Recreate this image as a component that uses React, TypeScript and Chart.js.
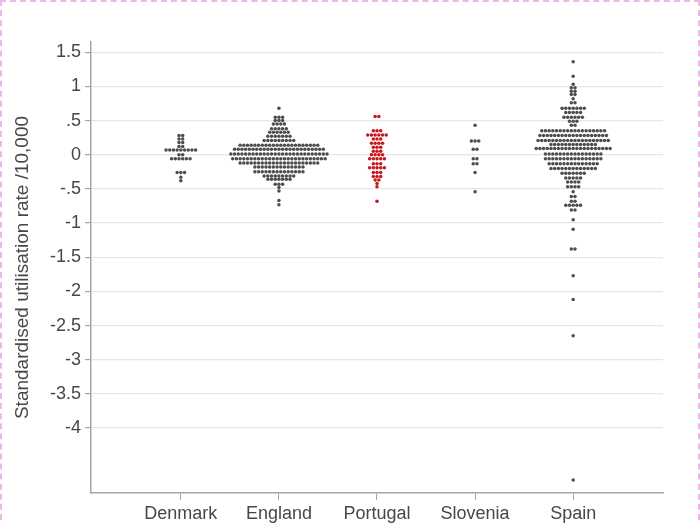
import React, { useEffect, useRef } from 'react';
import { Chart, registerables } from 'chart.js';

Chart.register(...registerables);

const countries = ['Denmark', 'England', 'Portugal', 'Slovenia', 'Spain'];
const yTicks = [1.5, 1, 0.5, 0, -0.5, -1, -1.5, -2, -2.5, -3, -3.5, -4];
const yTickLabels = ['1.5', '1', '.5', '0', '-.5', '-1', '-1.5', '-2', '-2.5', '-3', '-3.5', '-4'];

// Each row: [standardised rate, number of areas stacked side by side at that rate]
const denmarkRows: [number, number][] = [
  [0.28, 2], [0.23, 2], [0.18, 2], [0.12, 2], [0.07, 9], [0.0, 2], [-0.06, 6],
  [-0.26, 3], [-0.33, 1], [-0.38, 1],
];
const englandRows: [number, number][] = [
  [0.68, 1], [0.55, 3], [0.5, 3], [0.45, 4], [0.38, 5], [0.33, 6], [0.27, 7], [0.21, 9],
  [0.14, 22], [0.08, 25], [0.01, 27], [-0.06, 26], [-0.12, 22], [-0.18, 14], [-0.25, 14],
  [-0.31, 9], [-0.36, 7], [-0.43, 3], [-0.48, 1], [-0.53, 1], [-0.67, 1], [-0.73, 1],
];
const portugalRows: [number, number][] = [
  [0.56, 2], [0.35, 3], [0.29, 6], [0.23, 3], [0.17, 4], [0.11, 3], [0.05, 3], [0.0, 4],
  [-0.06, 5], [-0.13, 3], [-0.19, 5], [-0.26, 3], [-0.32, 3], [-0.37, 2], [-0.42, 1],
  [-0.47, 1], [-0.68, 1],
];
const sloveniaRows: [number, number][] = [
  [0.43, 1], [0.2, 3], [0.08, 2], [-0.06, 2], [-0.13, 2], [-0.26, 1], [-0.54, 1],
];
const spainRows: [number, number][] = [
  [1.36, 1], [1.15, 1], [1.03, 1], [0.98, 2], [0.93, 2], [0.88, 2], [0.82, 1], [0.76, 2],
  [0.68, 7], [0.62, 5], [0.55, 6], [0.49, 3], [0.43, 2], [0.35, 18], [0.28, 19], [0.21, 20],
  [0.15, 13], [0.09, 21], [0.01, 16], [-0.06, 16], [-0.13, 14], [-0.2, 13], [-0.27, 7],
  [-0.34, 5], [-0.4, 4], [-0.47, 4], [-0.54, 1], [-0.61, 2], [-0.68, 2], [-0.74, 5],
  [-0.81, 2], [-0.95, 1], [-1.09, 1], [-1.38, 2], [-1.77, 1], [-2.12, 1], [-2.65, 1],
  [-4.76, 1],
];

const countryRows = [denmarkRows, englandRows, portugalRows, sloveniaRows, spainRows];
const countryColors = ['#4d4d4d', '#4d4d4d', '#c8161d', '#4d4d4d', '#4d4d4d'];

const FONT = "'Liberation Sans', Arial, Helvetica, sans-serif";
const DOT_STEP = 0.0377; // horizontal spacing of stacked dots, in category units

function swarm(rows: [number, number][], centre: number) {
  const pts: { x: number; y: number }[] = [];
  rows.forEach(([v, n]) => {
    for (let j = 0; j < n; j++) {
      pts.push({ x: centre + (j - (n - 1) / 2) * DOT_STEP, y: v });
    }
  });
  return pts;
}

export default function App() {
  const ref = useRef<HTMLCanvasElement | null>(null);

  useEffect(() => {
    document.body.style.margin = '0';
    const canvas = ref.current;
    if (!canvas) return;
    const chart = new Chart(canvas, {
      type: 'scatter',
      data: {
        datasets: countries.map((c, i) => ({
          label: c,
          data: swarm(countryRows[i], i + 1),
          backgroundColor: countryColors[i],
          borderWidth: 0,
          pointRadius: 1.75,
          pointHoverRadius: 1.75,
        })),
      },
      options: {
        responsive: false,
        animation: false,
        events: [],
        layout: { padding: { top: 42, right: 37, left: 0, bottom: 0 } },
        plugins: { legend: { display: false }, tooltip: { enabled: false } },
        scales: {
          x: {
            type: 'linear',
            min: 0.084,
            max: 5.916,
            afterBuildTicks: (s: any) => {
              s.ticks = countries.map((_, i) => ({ value: i + 1 }));
            },
            afterFit: (s: any) => {
              s.height = 30;
            },
            ticks: {
              callback: (v: any) => countries[Math.round(Number(v)) - 1],
              font: { family: FONT, size: 18 },
              color: '#474747',
              padding: 3,
              maxRotation: 0,
              autoSkip: false,
            },
            grid: { drawOnChartArea: false, drawTicks: true, tickLength: 7, tickColor: '#a6a6a6' },
            border: { color: '#a6a6a6', width: 1.5 },
          },
          y: {
            min: -4.95,
            max: 1.65,
            afterBuildTicks: (s: any) => {
              s.ticks = yTicks.map((v) => ({ value: v }));
            },
            afterFit: (s: any) => {
              s.width = 91;
            },
            ticks: {
              callback: (v: any) => {
                const k = yTicks.findIndex((t) => Math.abs(t - Number(v)) < 1e-6);
                return k >= 0 ? yTickLabels[k] : '';
              },
              font: { family: FONT, size: 18 },
              color: '#474747',
              padding: 4,
              autoSkip: false,
            },
            grid: { color: '#e6e6e6', lineWidth: 1.2, tickColor: '#a6a6a6', tickLength: 6 },
            border: { color: '#a6a6a6', width: 1.5 },
            title: {
              display: true,
              text: 'Standardised utilisation rate /10,000',
              font: { family: FONT, size: 19 },
              color: '#474747',
              padding: { top: 11, bottom: 0 },
            },
          },
        },
      },
    });
    return () => chart.destroy();
  }, []);

  return (
    <div style={{ position: 'relative', width: 700, height: 523, background: '#fff', overflow: 'hidden' }}>
      <canvas ref={ref} width={700} height={523} style={{ display: 'block' }} />
      <div
        style={{
          position: 'absolute',
          left: 0,
          top: 0,
          width: 700,
          height: 530,
          boxSizing: 'border-box',
          border: '2px dashed #efb6e8',
          pointerEvents: 'none',
        }}
      />
    </div>
  );
}
